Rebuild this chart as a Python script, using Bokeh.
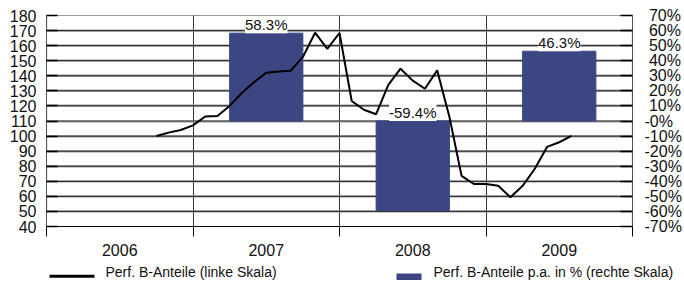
from bokeh.plotting import figure
from bokeh.models import (Range1d, LinearAxis, FixedTicker, ColumnDataSource, LabelSet)
from bokeh.core.properties import value
from bokeh.layouts import column
from bokeh.embed import file_html
from bokeh.resources import INLINE

# ---- data -------------------------------------------------------------
years = ["2006", "2007", "2008", "2009"]

# months counted from January 2006 (0) for the performance line
line_month = [9, 10, 11, 12, 13, 14, 15, 16, 17, 18, 19, 20, 21, 22, 23, 24,
              25, 26, 27, 28, 29, 30, 31, 32, 33, 34, 35, 36, 37, 38, 39, 40,
              41, 42, 43]
line_value = [100.0, 102.3, 104.0, 107.1, 113.0, 113.3, 120.0, 128.6, 135.7,
              142.0, 142.8, 143.4, 152.5, 168.6, 157.8, 168.4, 123.3, 117.5,
              114.5, 134.0, 144.7, 136.8, 131.4, 143.6, 112.8, 73.6, 68.2,
              68.2, 67.0, 59.4, 67.0, 78.3, 92.8, 95.9, 100.2]

bar_year = ["2007", "2008", "2009"]
bar_pct = [58.3, -59.4, 46.3]
bar_label = ["58.3%", "-59.4%", "46.3%"]

left_ticks = [40, 50, 60, 70, 80, 90, 100, 110, 120, 130, 140, 150, 160, 170, 180]
right_ticks = [-70, -60, -50, -40, -30, -20, -10, 0, 10, 20, 30, 40, 50, 60, 70]
right_tick_labels = ["-70%", "-60%", "-50%", "-40%", "-30%", "-20%", "-10%", "-0%",
                     "10%", "20%", "30%", "40%", "50%", "60%", "70%"]

legend_line = "Perf. B-Anteile (linke Skala)"
legend_bar = "Perf. B-Anteile p.a. in % (rechte Skala)"

# ---- styling ----------------------------------------------------------
FONT = "Liberation Sans"
BAR = "#3B4683"
INK = "#111111"
GRID = "#333333"
W = 684

p = figure(width=W, height=258, x_range=Range1d(0, 4), y_range=Range1d(40, 180),
           output_backend="svg", toolbar_location=None,
           min_border_left=46, min_border_right=50, min_border_top=15,
           min_border_bottom=26)
p.frame_align = False
p.extra_y_ranges = {"pct": Range1d(-70, 70)}
p.outline_line_color = None
p.background_fill_color = "white"
p.border_fill_color = "white"

# horizontal grid lines at the left-scale ticks
p.ygrid.ticker = FixedTicker(ticks=left_ticks)
p.ygrid.grid_line_color = "#9a9a9a"
p.ygrid.grid_line_width = 2

# the same grid as one continuous path running back and forth across the frame
snake_x, snake_y = [], []
for i, t in enumerate(left_ticks):
    ends = [0.0, 4.0] if i % 2 == 0 else [4.0, 0.0]
    snake_x += ends
    snake_y += [float(t), float(t)]
grid_src = ColumnDataSource(dict(x=snake_x, y=snake_y))
p.line(x="x", y="y", source=grid_src, line_color=GRID, line_width=1.2)

p.xgrid.ticker = FixedTicker(ticks=[0, 1, 2, 3, 4])
p.xgrid.grid_line_color = GRID
p.xgrid.grid_line_width = 1

# left axis
ya = p.left[0]
ya.ticker = FixedTicker(ticks=left_ticks)
ya.major_tick_in = 11
ya.major_tick_out = 0
ya.minor_tick_in = 0
ya.minor_tick_out = 0
ya.major_tick_line_color = "black"
ya.major_tick_line_width = 1.5
ya.axis_line_color = "#555555"
ya.major_label_standoff = 10
ya.major_label_text_font = FONT
ya.major_label_text_font_size = "16px"
ya.major_label_text_color = INK

# bottom axis: labels at year centres, ticks at year boundaries
xa = p.below[0]
xa.ticker = FixedTicker(ticks=[i + 0.5 for i in range(len(years))],
                        minor_ticks=[i for i in range(len(years) + 1)])
xa.major_label_overrides = {i + 0.5: y for i, y in enumerate(years)}
xa.major_tick_in = 0
xa.major_tick_out = 0
xa.minor_tick_in = 0
xa.minor_tick_out = 10
xa.minor_tick_line_color = "black"
xa.axis_line_color = "black"
xa.major_label_standoff = 7
xa.major_label_text_font = FONT
xa.major_label_text_font_size = "16px"
xa.major_label_text_color = INK

# right axis (percent)
ra = LinearAxis(y_range_name="pct", ticker=FixedTicker(ticks=right_ticks))
ra.major_label_overrides = {t: (lab if lab.startswith("-") else "\u00a0" + lab)
                            for t, lab in zip(right_ticks, right_tick_labels)}
ra.major_tick_in = 12
ra.major_tick_out = 0
ra.minor_tick_in = 0
ra.minor_tick_out = 0
ra.major_tick_line_color = "black"
ra.major_tick_line_width = 1.5
ra.axis_line_color = "#555555"
ra.major_label_standoff = 12
ra.major_label_text_font = FONT
ra.major_label_text_font_size = "16px"
ra.major_label_text_color = INK
p.add_layout(ra, "right")

# bars
bar_src = ColumnDataSource(dict(
    x=[years.index(y) + 0.5 for y in bar_year],
    top=bar_pct,
    label=bar_label,
    label_y=[max(0.0, v) for v in bar_pct],
))
p.vbar(x="x", bottom=0, top="top", width=0.5, source=bar_src,
       y_range_name="pct", fill_color=BAR, line_color=BAR, line_width=1)

# performance line
line_src = ColumnDataSource(dict(x=[m / 12 for m in line_month], y=line_value))
p.line(x="x", y="y", source=line_src, line_color="black", line_width=2)

# value labels
labels = LabelSet(x="x", y="label_y", text="label", source=bar_src, y_range_name="pct",
                  text_align="center", text_baseline="bottom",
                  text_font=value(FONT), text_font_size="15px", text_color=INK,
                  background_fill_color="white")
p.add_layout(labels)

# ---- legend strip (pixel coordinates) ---------------------------------
LG_H = 24
lg = figure(width=W, height=LG_H, x_range=Range1d(0, W), y_range=Range1d(0, LG_H),
            output_backend="svg", toolbar_location=None,
            x_axis_type=None, y_axis_type=None,
            min_border_left=0, min_border_right=0, min_border_top=0,
            min_border_bottom=0)
lg.frame_align = False
lg.outline_line_color = None
lg.xgrid.visible = False
lg.ygrid.visible = False

# swatches: line sample and bar square
lg.quad(left=[49], right=[94], bottom=[4.7], top=[7.7], fill_color="black", line_color=None)
lg.quad(left=[396], right=[421], bottom=[2.5], top=[9], fill_color=BAR, line_color=None)
lg.text(x=[105, 433], y=[11, 11], text=[legend_line, legend_bar],
        text_font=value(FONT), text_font_size="14px", text_color=INK,
        text_baseline="middle", text_align="left")

layout = column(p, lg, spacing=0)
open("out.html", "w").write(file_html(layout, INLINE))
